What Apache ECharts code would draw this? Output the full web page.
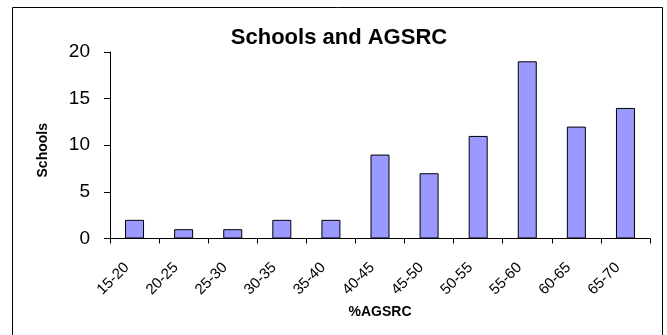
<!DOCTYPE html>
<html>
<head>
<meta charset="utf-8">
<script src="https://cdn.jsdelivr.net/npm/echarts@6/dist/echarts.min.js"></script>
<style>
  html, body { margin: 0; padding: 0; background: #ffffff; }
  #chart { width: 667px; height: 335px; }
</style>
</head>
<body>
<div id="chart"></div>
<script>
// %AGSRC bands and number of schools in each band
const bands = ['15-20', '20-25', '25-30', '30-35', '35-40', '40-45', '45-50', '50-55', '55-60', '60-65', '65-70'];
const schools = [2, 1, 1, 2, 2, 9, 7, 11, 19, 12, 14];
const schoolTicks = [0, 5, 10, 15, 20];

const FONT = 'Arial, "Liberation Sans", Helvetica, sans-serif';

const chart = echarts.init(document.getElementById('chart'), null, { renderer: 'canvas' });

chart.setOption({
  backgroundColor: '#ffffff',
  animation: false,
  title: {
    text: 'Schools and AGSRC',
    left: 334,
    top: 22,
    textAlign: 'center',
    textStyle: { fontFamily: FONT, fontSize: 22, fontWeight: 'bold', color: '#000000' }
  },
  grid: { left: 110, right: 17, top: 52, bottom: 96.5, containLabel: false },
  xAxis: {
    type: 'category',
    data: bands,
    name: '%AGSRC',
    nameLocation: 'middle',
    nameGap: 64,
    nameTextStyle: { fontFamily: FONT, fontSize: 14, fontWeight: 'bold', color: '#000000' },
    axisLine: { show: true, lineStyle: { color: '#000000', width: 1 } },
    axisTick: { show: true, inside: false, length: 5, alignWithLabel: false, lineStyle: { color: '#000000' } },
    axisLabel: {
      rotate: 45,
      interval: 0,
      margin: 19,
      padding: [0, 11, 11, 0],
      fontFamily: FONT,
      fontSize: 15,
      color: '#000000'
    },
    splitLine: { show: false }
  },
  yAxis: {
    type: 'value',
    min: schoolTicks[0],
    max: schoolTicks[schoolTicks.length - 1],
    interval: schoolTicks[1] - schoolTicks[0],
    name: 'Schools',
    nameLocation: 'middle',
    nameRotate: 90,
    nameGap: 60,
    nameTextStyle: { fontFamily: FONT, fontSize: 14, fontWeight: 'bold', color: '#000000', padding: [0, 10, 0, 0] },
    axisLine: { show: true, lineStyle: { color: '#000000', width: 1 } },
    axisTick: { show: true, inside: false, length: 6, lineStyle: { color: '#000000' } },
    axisLabel: { margin: 20, fontFamily: FONT, fontSize: 19, color: '#000000' },
    splitLine: { show: false }
  },
  series: [{
    type: 'bar',
    data: schools,
    barWidth: 19,
    itemStyle: { color: '#9999FF', borderColor: '#000000', borderWidth: 1 },
    emphasis: { disabled: true }
  }],
  graphic: [{
    // chart-area frame (open at the bottom edge of the page)
    type: 'rect',
    silent: true,
    shape: { x: 12.5, y: 7.5, width: 650, height: 340 },
    style: { fill: 'none', stroke: '#000000', lineWidth: 1 }
  }]
});
</script>
</body>
</html>
